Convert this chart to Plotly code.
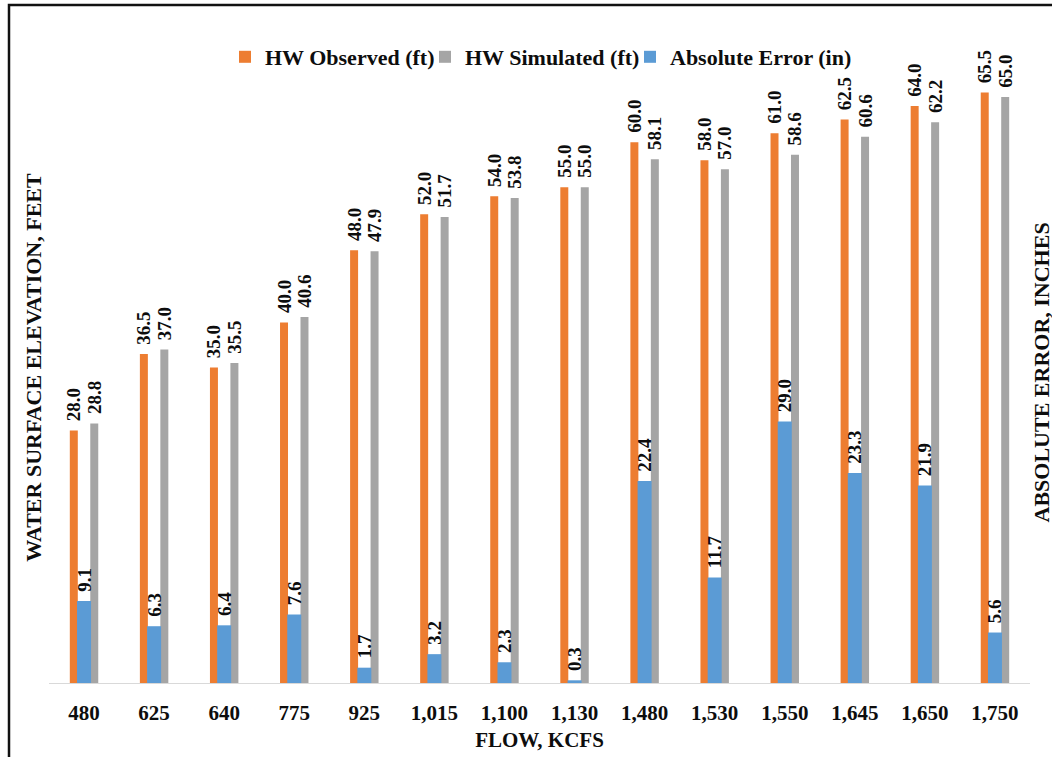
import plotly.graph_objects as go

# Flow categories (thousand cfs) and the headwater comparison series
flow_kcfs = ["480", "625", "640", "775", "925", "1,015", "1,100", "1,130",
             "1,480", "1,530", "1,550", "1,645", "1,650", "1,750"]
hw_observed_ft = [28.0, 36.5, 35.0, 40.0, 48.0, 52.0, 54.0, 55.0,
                  60.0, 58.0, 61.0, 62.5, 64.0, 65.5]
hw_simulated_ft = [28.8, 37.0, 35.5, 40.6, 47.9, 51.7, 53.8, 55.0,
                   58.1, 57.0, 58.6, 60.6, 62.2, 65.0]
abs_error_in = [9.1, 6.3, 6.4, 7.6, 1.7, 3.2, 2.3, 0.3,
                22.4, 11.7, 29.0, 23.3, 21.9, 5.6]

# Canvas and plot-area geometry (pixels)
W, H = 1052, 757
M_L, M_R, M_T, M_B = 49, 22, 52, 74
PLOT_W = W - M_L - M_R
PLOT_H = H - M_T - M_B

FONT = "Liberation Serif, Times New Roman, serif"
INK = "#0d0d0d"
ORANGE = "#ED7D31"
GRAY = "#A5A5A5"
BLUE = "#5B9BD5"


def bold(size):
    return dict(family=FONT, size=size, color=INK, weight="bold")


fig = go.Figure()

# Value labels sit a little above each bar, rotated to read upward
common = dict(
    texttemplate="\u2004%{y:.1f}",
    textposition="outside",
    textangle=-90,
    textfont=bold(19),
    cliponaxis=False,
    constraintext="none",
    marker_line_width=0,
    hovertemplate="%{x}: %{y:.1f}<extra>%{fullData.name}</extra>",
)

fig.add_bar(x=flow_kcfs, y=hw_observed_ft, name="HW Observed (ft)",
            marker_color=ORANGE, width=0.114, offset=-0.203,
            legendwidth=155, **common)
fig.add_bar(x=flow_kcfs, y=hw_simulated_ft, name="HW Simulated (ft)",
            marker_color=GRAY, width=0.114, offset=0.089,
            legendwidth=160, **common)
fig.add_bar(x=flow_kcfs, y=abs_error_in, name="Absolute Error (in)",
            marker_color=BLUE, width=0.2, offset=-0.1, yaxis="y2",
            **common)


def px_to_paper_x(px):
    return (px - M_L) / PLOT_W


def px_to_paper_y(py):
    return (H - M_B - py) / PLOT_H


fig.update_layout(
    width=W,
    height=H,
    margin=dict(l=M_L, r=M_R, t=M_T, b=M_B, pad=0, autoexpand=False),
    paper_bgcolor="white",
    plot_bgcolor="white",
    font=bold(20),
    barmode="overlay",
    showlegend=True,
    legend=dict(
        orientation="h",
        x=px_to_paper_x(225), xanchor="left",
        y=px_to_paper_y(57), yanchor="middle",
        font=bold(22),
        bgcolor="rgba(0,0,0,0)",
        itemwidth=30,
        traceorder="normal",
    ),
    xaxis=dict(
        type="category", automargin=False,
        showline=True, linecolor="#D9D9D9", linewidth=1,
        ticks="", showgrid=False, zeroline=False,
        tickfont=bold(21),
        ticklabelstandoff=11,
        title=dict(text="FLOW, KCFS", standoff=8, font=bold(21)),
    ),
    yaxis=dict(
        range=[0, 70], automargin=False,
        showticklabels=False, ticks="", showgrid=False,
        zeroline=False, showline=False,
        title=dict(text="WATER SURFACE ELEVATION, FEET", standoff=0,
                   font=bold(22)),
    ),
    yaxis2=dict(
        range=[0, 70], overlaying="y", side="right", automargin=False,
        showticklabels=False, ticks="", showgrid=False,
        zeroline=False, showline=False,
    ),
    # Secondary-axis title, pressed against the right edge of the canvas
    annotations=[
        dict(text="ABSOLUTE ERROR, INCHES", textangle=-90,
             xref="paper", yref="paper",
             x=px_to_paper_x(1026), xanchor="left",
             y=px_to_paper_y(373), yanchor="middle",
             showarrow=False, font=bold(22)),
    ],
    shapes=[
        # Frame around the chart (right and bottom edges fall outside the canvas)
        dict(type="rect", xref="paper", yref="paper",
             x0=px_to_paper_x(9), x1=px_to_paper_x(W + 20),
             y0=px_to_paper_y(H + 20), y1=px_to_paper_y(5),
             line=dict(color="#111111", width=2.5), layer="below"),
    ],
)

fig.write_html("out.html")
